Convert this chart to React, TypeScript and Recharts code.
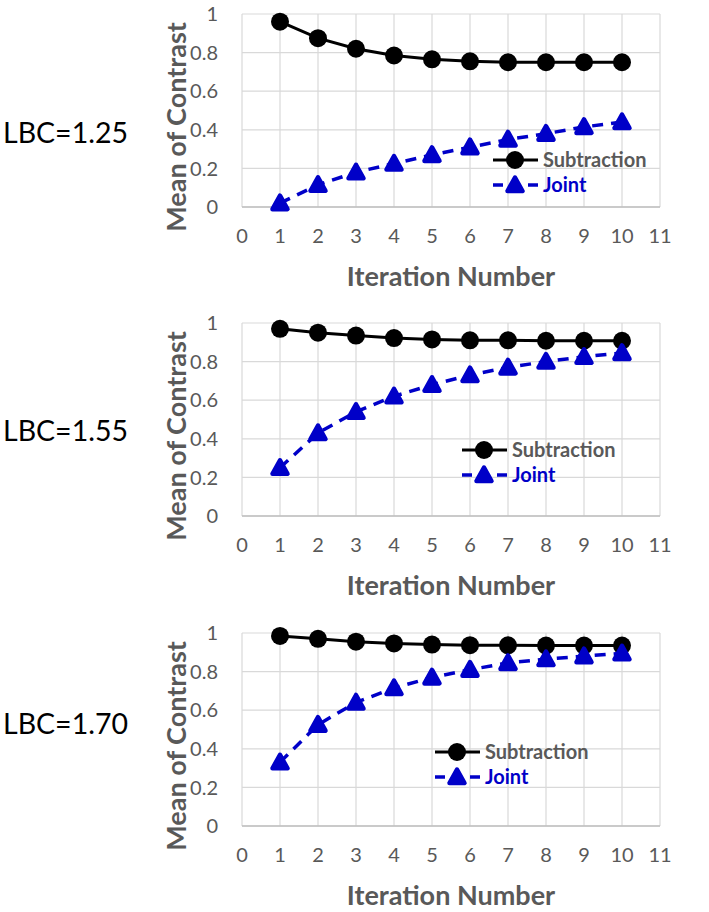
import { LineChart, Line, XAxis, YAxis, CartesianGrid, Legend } from "recharts";

const FONT = "Lato, 'Open Sans', sans-serif";
const AXIS_TEXT = "#595959";
const BLUE = "#0000c8";

// x = iteration number, y = mean of contrast
const iterations = [1, 2, 3, 4, 5, 6, 7, 8, 9, 10];
const xTicks = [0, 1, 2, 3, 4, 5, 6, 7, 8, 9, 10, 11];
const yTicks = [0, 0.2, 0.4, 0.6, 0.8, 1];

const sub125 = [0.96, 0.875, 0.82, 0.785, 0.765, 0.755, 0.75, 0.75, 0.75, 0.75];
const joint125 = [0.02, 0.115, 0.18, 0.225, 0.27, 0.31, 0.35, 0.38, 0.415, 0.44];
const sub155 = [0.97, 0.95, 0.935, 0.922, 0.915, 0.91, 0.91, 0.908, 0.908, 0.908];
const joint155 = [0.25, 0.43, 0.54, 0.62, 0.68, 0.73, 0.77, 0.8, 0.825, 0.845];
const sub170 = [0.985, 0.97, 0.955, 0.946, 0.94, 0.937, 0.936, 0.935, 0.935, 0.935];
const joint170 = [0.33, 0.525, 0.64, 0.715, 0.77, 0.81, 0.845, 0.865, 0.88, 0.895];

// rounded triangle marker, like the spreadsheet's
function Triangle({ cx, cy }: { cx: number; cy: number }) {
  return (
    <path
      d={`M${cx},${cy - 7.5} L${cx + 7.5},${cy + 6} L${cx - 7.5},${cy + 6} Z`}
      fill={BLUE}
      stroke={BLUE}
      strokeWidth={4.5}
      strokeLinejoin="round"
    />
  );
}

function legendContent() {
  return (
    <div style={{ fontFamily: FONT, fontWeight: 700, fontSize: 20, lineHeight: "25px" }}>
      <div style={{ display: "flex", alignItems: "center", height: 25 }}>
        <svg width={50} height={22} style={{ display: "block" }}>
          <line x1={0} y1={11} x2={45} y2={11} stroke="#000" strokeWidth={3} />
          <circle cx={22} cy={11} r={9} fill="#000" />
        </svg>
        <span style={{ color: AXIS_TEXT }}>Subtraction</span>
      </div>
      <div style={{ display: "flex", alignItems: "center", height: 25 }}>
        <svg width={50} height={22} style={{ display: "block" }}>
          <line x1={0} y1={11} x2={10} y2={11} stroke={BLUE} strokeWidth={3.5} />
          <line x1={35} y1={11} x2={45} y2={11} stroke={BLUE} strokeWidth={3.5} />
          <Triangle cx={22} cy={11} />
        </svg>
        <span style={{ color: BLUE }}>Joint</span>
      </div>
    </div>
  );
}

function Panel({
  top,
  sub,
  joint,
  legendLeft,
  legendTop,
}: {
  top: number;
  sub: number[];
  joint: number[];
  legendLeft: number;
  legendTop: number;
}) {
  const rows = iterations.map((it, i) => ({ it, sub: sub[i], joint: joint[i] }));
  return (
    <div style={{ position: "absolute", left: 0, top }}>
      <LineChart width={709} height={300} data={rows} margin={{ top: 14, right: 49, left: 0, bottom: 23 }}>
        <CartesianGrid stroke="#d9d9d9" strokeWidth={1.2} />
        <XAxis
          dataKey="it"
          type="number"
          domain={[0, 11]}
          ticks={xTicks}
          interval={0}
          height={70}
          tickLine={false}
          axisLine={{ stroke: "#bfbfbf", strokeWidth: 1.5 }}
          tick={{ fill: AXIS_TEXT, fontSize: 20, fontFamily: FONT }}
          tickMargin={16}
          label={() => (
            <text x={451} y={275} textAnchor="middle" dominantBaseline="central" fill={AXIS_TEXT} fontSize={27} fontWeight={700} fontFamily={FONT}>
              Iteration Number
            </text>
          )}
        />
        <YAxis
          type="number"
          domain={[0, 1]}
          ticks={yTicks}
          width={242}
          tickLine={false}
          axisLine={false}
          tick={{ fill: AXIS_TEXT, fontSize: 20, fontFamily: FONT }}
          tickMargin={18}
          label={() => (
            <text
              x={175}
              y={127}
              transform="rotate(-90 175 127)"
              textAnchor="middle"
              dominantBaseline="central"
              fill={AXIS_TEXT}
              fontSize={27}
              fontWeight={700}
              fontFamily={FONT}
            >
              Mean of Contrast
            </text>
          )}
        />
        <Line dataKey="sub" stroke="#000" strokeWidth={3} dot={{ r: 9, fill: "#000", stroke: "none" }} isAnimationActive={false} />
        <Line
          dataKey="joint"
          stroke={BLUE}
          strokeWidth={3.5}
          strokeDasharray="11 8"
          dot={(p: any) => <Triangle key={p.index} cx={p.cx} cy={p.cy} />}
          isAnimationActive={false}
        />
        <Legend
          layout="vertical"
          align="center"
          verticalAlign="middle"
          content={legendContent}
          wrapperStyle={{ left: legendLeft, top: legendTop, width: 200 }}
        />
      </LineChart>
    </div>
  );
}

const lbcStyle = {
  position: "absolute" as const,
  left: 3,
  fontFamily: FONT,
  fontSize: 28.5,
  color: "#000",
  lineHeight: "36px",
};

export default function App() {
  return (
    <div style={{ position: "absolute", left: 0, top: 0, width: 709, height: 912, background: "#fff", overflow: "hidden" }}>
      <div style={{ ...lbcStyle, top: 132 - 18 }}>LBC=1.25</div>
      <div style={{ ...lbcStyle, top: 430 - 18 }}>LBC=1.55</div>
      <div style={{ ...lbcStyle, top: 723 - 18 }}>LBC=1.70</div>
      <Panel top={0} sub={sub125} joint={joint125} legendLeft={493} legendTop={147} />
      <Panel top={309} sub={sub155} joint={joint155} legendLeft={462} legendTop={128} />
      <Panel top={619} sub={sub170} joint={joint170} legendLeft={435} legendTop={120} />
    </div>
  );
}
